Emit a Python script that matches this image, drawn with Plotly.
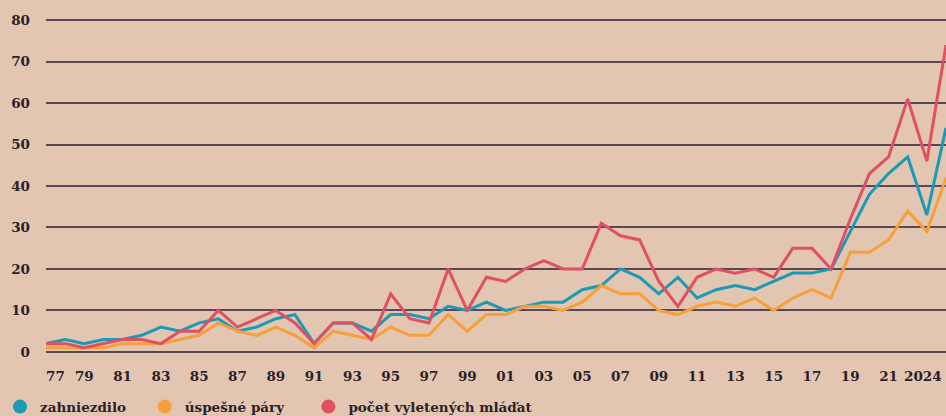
import plotly.graph_objects as go

years = list(range(1977, 2025))

zahniezdilo = [2, 3, 2, 3, 3, 4, 6, 5, 7, 8, 5, 6, 8, 9, 2, 7, 7, 5, 9, 9,
               8, 11, 10, 12, 10, 11, 12, 12, 15, 16, 20, 18, 14, 18, 13, 15, 16, 15, 17, 19,
               19, 20, 29, 38, 43, 47, 33, 54]
uspesne_pary = [1, 1, 1, 1, 2, 2, 2, 3, 4, 7, 5, 4, 6, 4, 1, 5, 4, 3, 6, 4,
                4, 9, 5, 9, 9, 11, 11, 10, 12, 16, 14, 14, 10, 9, 11, 12, 11, 13, 10, 13,
                15, 13, 24, 24, 27, 34, 29, 42]
mladata = [2, 2, 1, 2, 3, 3, 2, 5, 5, 10, 6, 8, 10, 7, 2, 7, 7, 3, 14, 8,
           7, 20, 10, 18, 17, 20, 22, 20, 20, 31, 28, 27, 17, 11, 18, 20, 19, 20, 18, 25,
           25, 20, 32, 43, 47, 61, 46, 74]

series_names = ["zahniezdilo", "úspešné páry", "počet vyletených mláďat"]
colors = ["#1a9ab4", "#f7a03a", "#e04f62"]
legend_ids = ["legend", "legend2", "legend3"]
legend_x = [0.0, 0.153, 0.326]

tick_years = list(range(1979, 2022, 2))
tick_text = [str(y)[-2:] for y in tick_years]
y_ticks = list(range(0, 81, 10))

FONT = "DejaVu Serif"
TXT = "#2b2229"
GRID = "#5a4656"

fig = go.Figure()
for name, vals, col in zip(series_names, [zahniezdilo, uspesne_pary, mladata], colors):
    fig.add_trace(go.Scatter(x=years, y=vals, mode="lines", name=name,
                             line=dict(color=col, width=3), showlegend=False,
                             hoverinfo="skip"))
for name, col, lid in zip(series_names, colors, legend_ids):
    fig.add_trace(go.Scatter(x=[None], y=[None], mode="markers", name=name,
                             marker=dict(color=col, size=14), showlegend=True,
                             legend=lid))

fig.add_annotation(x=years[0], y=0, xref="x", yref="y", text="<b>77</b>",
                   showarrow=False, xanchor="left", yanchor="top", yshift=-14, xshift=-2,
                   font=dict(family=FONT, size=13.5, color=TXT))
fig.add_annotation(x=years[-1], y=0, xref="x", yref="y", text="<b>2024</b>",
                   showarrow=False, xanchor="right", yanchor="top", yshift=-14, xshift=-2,
                   font=dict(family=FONT, size=13.5, color=TXT))

legend_common = dict(orientation="h", xref="container", yref="container",
                     xanchor="left", y=0.022, yanchor="middle",
                     font=dict(family=FONT, size=13.5, color=TXT, weight="bold"),
                     bgcolor="rgba(0,0,0,0)", itemclick=False, itemdoubleclick=False)

fig.update_layout(
    width=946, height=416,
    margin=dict(l=46, r=0, t=18, b=62, autoexpand=False),
    paper_bgcolor="#e2c6b2", plot_bgcolor="#e2c6b2",
    font=dict(family=FONT, size=13.5, color=TXT),
    showlegend=True,
    legend=dict(x=legend_x[0], **legend_common),
    legend2=dict(x=legend_x[1], **legend_common),
    legend3=dict(x=legend_x[2], **legend_common),
    xaxis=dict(range=[1977, 2024], tickvals=tick_years, ticktext=[f"<b>{t}</b>" for t in tick_text],
               showgrid=False, zeroline=False, showline=False, ticks="",
               ticklabelstandoff=12, fixedrange=True),
    yaxis=dict(range=[-0.5, 80.5], tickvals=y_ticks, ticktext=[f"<b>{t}</b>" for t in y_ticks],
               showgrid=True, gridcolor=GRID, gridwidth=1.5, zeroline=False,
               showline=False, ticks="", ticklabelstandoff=15, fixedrange=True),
)

fig.write_html("out.html", config={"displayModeBar": False},
               post_script="document.body.style.margin='0px';document.body.style.overflow='hidden';document.body.style.background='#e2c6b2';")
